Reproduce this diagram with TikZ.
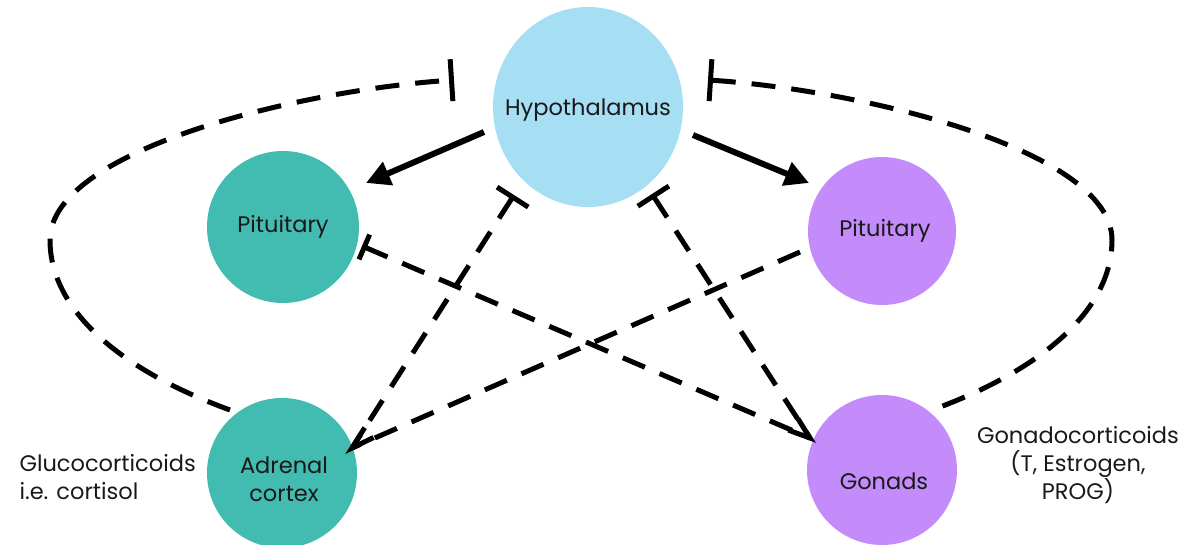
\documentclass[tikz,border=0pt]{standalone}
\usepackage{fontspec}
\setmainfont{Poppins}
\usetikzlibrary{arrows.meta,shapes.geometric,calc}
\definecolor{hypoc}{RGB}{166,222,243}
\definecolor{tealc}{RGB}{66,187,176}
\definecolor{purpc}{RGB}{196,140,250}
\definecolor{textc}{RGB}{25,25,25}
\tikzset{
  bigbar/.tip={Bar[width=42pt,line width=5pt]},
  midbar/.tip={Bar[width=37pt,line width=5pt]},
  smallbar/.tip={Bar[width=27pt,line width=5pt]}}
\begin{document}
\begin{tikzpicture}[x=1pt,y=-1pt,
  circ/.style={circle, inner sep=0pt, minimum size=150pt},
  txt/.style={font=\fontsize{22.5}{28}\selectfont, text=textc},
  dline/.style={line width=5pt, dash pattern=on 24pt off 16pt},
  solidarr/.style={line width=6pt, -{Triangle[length=24pt,width=24pt]}},
  vtip/.style={line width=5pt}]
\useasboundingbox (0,0) rectangle (1192,544);

% nodes
\node[ellipse, fill=hypoc, minimum width=190pt, minimum height=200pt, inner sep=0pt,
  label={[name=hypT, txt, yshift=-3pt]center:Hypothalamus}] (hyp) at (588,107) {};
\node[circ, fill=tealc, minimum size=152pt, label={[name=lpT, txt]center:Pituitary}] (lp) at (283,227) {};
\node[circ, fill=purpc, minimum size=148pt, label={[name=rpT, txt, xshift=3pt]center:Pituitary}] (rp) at (882,231) {};
\node[circ, fill=tealc, label={[name=adrT, txt, align=center, xshift=2pt, yshift=-6pt]center:Adrenal\\cortex}] (adr) at (282,473) {};
\node[circ, fill=purpc, label={[name=gonT, txt, xshift=2pt, yshift=-11pt]center:Gonads}] (gon) at (882,470) {};
\node[txt, anchor=west, align=left] (gluc) at (16,477) {Glucocorticoids\\i.e. cortisol};
\node[txt, align=center] (gonad) at (1078,465) {Gonadocorticoids\\(T, Estrogen,\\PROG)};

% connector end points
\coordinate (hbL) at ($(hyp.center)+(-134,-27)$);
\coordinate (hbR) at ($(hyp.center)+(120,-27)$);
\coordinate (hbDL) at ($(hyp.center)+(-74,88)$);
\coordinate (hbDR) at ($(hyp.center)+(64,87)$);
\coordinate (hsL) at ($(hyp.center)+(-104,25)$);
\coordinate (hsR) at ($(hyp.center)+(105,28)$);
\coordinate (lpE) at ($(lp.center)+(83,-44)$);
\coordinate (rpE) at ($(rp.center)+(-73,-48)$);
\coordinate (lpB) at ($(lp.center)+(79,19)$);
\coordinate (rpS) at ($(rp.center)+(-82,21)$);
\coordinate (adrV) at ($(adr.center)+(70,-25)$);
\coordinate (gonV) at ($(gon.center)+(-72,-32)$);
\coordinate (adrC) at ($(adr.center)+(-52,-63)$);
\coordinate (gonC) at ($(gon.center)+(50,-60)$);

% solid stimulatory arrows
\draw[solidarr] (hsL) -- (lpE);
\draw[solidarr] (hsR) -- (rpE);

% long feedback loops
\draw[dline, -{bigbar}] (adrC) .. controls (120,370) and (50,310) .. (50,240)
  .. controls (50,150) and (300,90) .. (hbL);
\draw[dline, {bigbar}-] (hbR) .. controls (862,90) and (1112,150) .. (1112,240)
  .. controls (1112,310) and (1042,370) .. (gonC);

% crossing dashed lines
\draw[dline, {midbar}-] (hbDL) -- (adrV);
\draw[dline, {midbar}-] (hbDR) -- (gonV);
\draw[dline, {smallbar}-] (lpB) -- (gonV);
\draw[dline] (rpS) -- (adrV);

% open arrow heads
\draw[vtip] ($(adrV)+(58:24pt)$) -- (adrV) -- ($(adrV)+(26:24pt)$);
\draw[vtip] ($(gonV)+(122:23pt)$) -- (gonV) -- ($(gonV)+(160:23pt)$);
\end{tikzpicture}
\end{document}
